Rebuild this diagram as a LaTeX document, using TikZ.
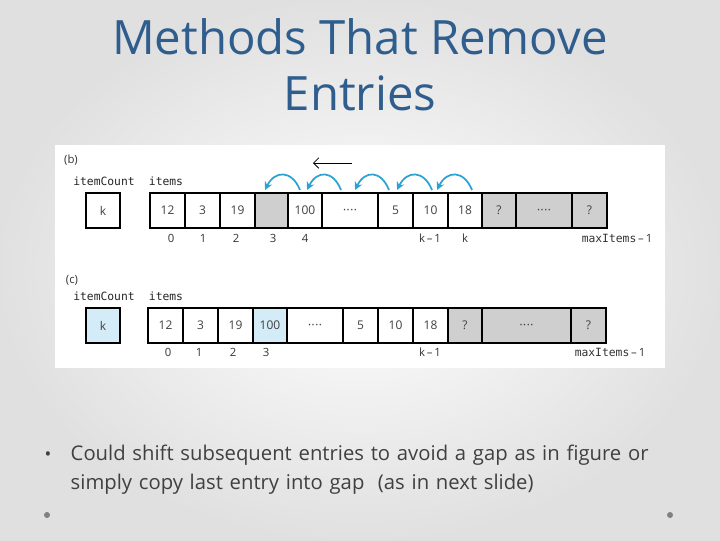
\documentclass[tikz,border=0pt]{standalone}
\usepackage{fontspec}
\setmainfont{Open Sans}
\setsansfont{Open Sans}
\setmonofont{DejaVu Sans Mono}
\usetikzlibrary{arrows.meta}
\definecolor{titleblue}{HTML}{2F5E8E}
\definecolor{arrowblue}{HTML}{2AA3D4}
\definecolor{lightblue}{HTML}{D4ECF8}
\definecolor{cellgray}{HTML}{CFCFCF}
\definecolor{bodygray}{HTML}{404040}
\newcommand{\fourdots}{{\fontsize{5}{6}\selectfont •\,•\,•\,•}}
\begin{document}
\begin{tikzpicture}[x=0.75pt,y=-0.75pt,
  cell/.style={draw=black,line width=1.2pt},
  num/.style={font=\fontsize{9}{10}\selectfont,text=black!75},
  lab/.style={font=\fontsize{8.5}{10}\selectfont\ttfamily,text=black!85},
  idx/.style={font=\fontsize{8.5}{10}\selectfont,text=black!80},
  shiftarrow/.style={arrowblue,line width=1.3pt,-{Stealth[length=6pt,width=6pt]}}]
\useasboundingbox (0,0) rectangle (720,540);
\shade[inner color=white,outer color=black!12] (0,0) rectangle (720,540);
% title
\node[font=\fontsize{35.5}{40}\selectfont,text=titleblue] (t1) at (360,37) {Methods That Remove};
\node[font=\fontsize{35.5}{40}\selectfont,text=titleblue] (t2) at (360,93) {Entries};
% figure panel
\fill[white] (55,145) rectangle (665,368);
% ---- (b)
\node[idx] (pb) at (71,160) {(b)};
\node[lab] (icb) at (104,181) {itemCount};
\node[lab] (itb) at (166,181) {items};
\draw[cell] (86,193) rectangle (120,228);
\node[num] (kb) at (103,210.5) {k};
\fill[cellgray] (255,193) rectangle (288,228);
\fill[cellgray] (482,193) rectangle (607,228);
\draw[cell] (150,193) rectangle (607,228);
\foreach \x in {185,220,255,288,322,378,413,448,482,516,572}
  \draw[line width=1.2pt] (\x,193) -- (\x,228);
\foreach \t/\x in {12/167.5,3/202.5,19/237.5,100/305,{\fourdots}/350,5/395.5,10/430.5,18/465,?/499,{\fourdots}/544,?/589.5}
  \node[num] at (\x,210.5) {\t};
\foreach \t/\x in {0/171,1/203,2/236,3/273,4/305,k/465}
  \node[idx] at (\x,238) {\t};
\node[idx] (kmb) at (430,238) {k\,–\,1};
\node[idx] (mxb) at (617,238) {\texttt{maxItems}\,–\,1};
\coordinate (la1) at (352,163); \coordinate (la2) at (313,163);
\draw[-{Straight Barb[length=4pt]},line width=0.6pt] (la1) -- (la2);
\foreach \a/\b in {300/265,341/307,389/355,432/397,472/437}
  \draw[shiftarrow] (\a,190) .. controls (\a-8,170) and (\b+10,170) .. (\b,190);
% ---- (c)
\node[idx] (pc) at (72,280) {(c)};
\node[lab] (icc) at (104,296) {itemCount};
\node[lab] (itc) at (166,296) {items};
\draw[cell,fill=lightblue] (86,308) rectangle (120,343);
\node[num] (kc) at (103,325.5) {k};
\fill[lightblue] (253,308) rectangle (287,343);
\fill[cellgray] (448,308) rectangle (606,343);
\draw[cell] (148,308) rectangle (606,343);
\foreach \x in {183,218,253,287,343,378,413,448,482,571}
  \draw[line width=1.2pt] (\x,308) -- (\x,343);
\foreach \t/\x in {12/165.5,3/200.5,19/235.5,100/270,{\fourdots}/315,5/360.5,10/395.5,18/430.5,?/465,{\fourdots}/526.5,?/588.5}
  \node[num] at (\x,325.5) {\t};
\foreach \t/\x in {0/168,1/199,2/233,3/266}
  \node[idx] at (\x,352) {\t};
\node[idx] (kmc) at (430,352) {k\,–\,1};
\node[idx] (mxc) at (610,352) {\texttt{maxItems}\,–\,1};
% bullet text
\node[text=bodygray,font=\fontsize{13.5}{16}\selectfont] (bul) at (48,456) {•};
\node[anchor=west,text=bodygray,font=\fontsize{15.2}{22}\selectfont,align=left,text width=640] (body) at (66,470)
 {Could shift subsequent entries to avoid a gap as in figure or\\simply copy last entry into gap\ \ (as in next slide)};
\fill[black!50] (47,515) circle (3);
\fill[black!50] (670,515) circle (3);
\end{tikzpicture}
\end{document}
